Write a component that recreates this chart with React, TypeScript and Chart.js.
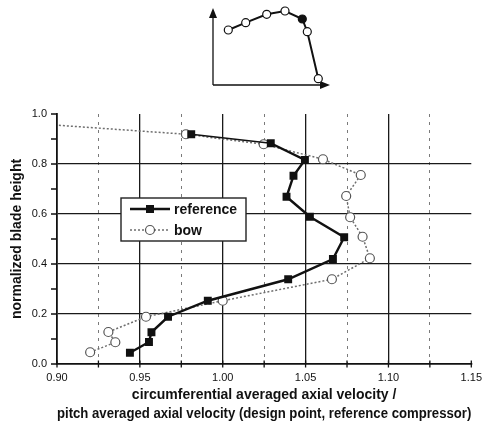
import React, { useEffect, useRef } from 'react';
import { Chart, registerables } from 'chart.js';

Chart.register(...registerables);

// ---------- data ----------
const seriesLabels = ['reference', 'bow'];

const referenceVelocity = [0.944, 0.9555, 0.957, 0.967, 0.991, 1.0395, 1.0665, 1.0733, 1.0526, 1.0385, 1.0427, 1.0496, 1.029, 0.981];
const referenceHeight = [0.045, 0.088, 0.127, 0.189, 0.253, 0.339, 0.42, 0.507, 0.589, 0.669, 0.753, 0.816, 0.883, 0.919];

const bowVelocity = [0.92, 0.9352, 0.931, 0.9537, 1.0, 1.0659, 1.0888, 1.0844, 1.0769, 1.0745, 1.0833, 1.0605, 1.0247, 0.9778, 0.804];
const bowHeight = [0.047, 0.087, 0.128, 0.189, 0.253, 0.339, 0.423, 0.509, 0.587, 0.672, 0.756, 0.819, 0.879, 0.919, 1.0];

const xTickValues = [0.9, 0.925, 0.95, 0.975, 1.0, 1.025, 1.05, 1.075, 1.1, 1.125, 1.15];
const xTickLabels = ['0.90', '0.95', '1.00', '1.05', '1.10', '1.15'];
const yTickValues = [0.0, 0.1, 0.2, 0.3, 0.4, 0.5, 0.6, 0.7, 0.8, 0.9, 1.0];
const yTickLabels = ['0.0', '0.2', '0.4', '0.6', '0.8', '1.0'];

const xTitle = ['circumferential averaged axial velocity /', 'pitch averaged axial velocity (design point, reference compressor)'];
const yTitle = 'normalized blade height';

// inset sketch (arbitrary units)
const insetX = [1.53, 3.27, 5.37, 7.2, 8.93, 9.43, 10.53];
const insetY = [5.5, 6.23, 7.07, 7.4, 6.6, 5.33, 0.63];
const insetHighlightIndex = 4;
const insetXMax = 11.7;
const insetYMax = 7.7;

// ---------- helpers ----------
const FONT = '"Liberation Sans", Arial, Helvetica, sans-serif';
const isXMajor = (v: number) => Math.abs(v / 0.05 - Math.round(v / 0.05)) < 1e-6;
const isYMajor = (v: number) => Math.abs(v / 0.2 - Math.round(v / 0.2)) < 1e-6;

const legendPlugin = {
  id: 'insideLegend',
  afterDatasetsDraw(chart: any) {
    const { ctx, chartArea } = chart;
    const x = chartArea.left + 64;
    const y = chartArea.top + 84;
    const w = 125;
    const h = 43;
    ctx.save();
    ctx.fillStyle = '#fff';
    ctx.fillRect(x, y, w, h);
    ctx.lineWidth = 1.4;
    ctx.strokeStyle = '#222';
    ctx.strokeRect(x, y, w, h);
    chart.data.datasets.forEach((ds: any, i: number) => {
      const cy = y + 11 + i * 21;
      ctx.beginPath();
      ctx.setLineDash(ds.borderDash || []);
      ctx.lineWidth = ds.borderWidth;
      ctx.strokeStyle = ds.borderColor;
      ctx.moveTo(x + 9, cy);
      ctx.lineTo(x + 49, cy);
      ctx.stroke();
      ctx.setLineDash([]);
      if (ds.pointStyle === 'rect') {
        const s = 8;
        ctx.fillStyle = ds.pointBackgroundColor;
        ctx.fillRect(x + 29 - s / 2, cy - s / 2, s, s);
      } else {
        ctx.beginPath();
        ctx.arc(x + 29, cy, ds.pointRadius, 0, Math.PI * 2);
        ctx.fillStyle = ds.pointBackgroundColor;
        ctx.fill();
        ctx.lineWidth = ds.pointBorderWidth;
        ctx.strokeStyle = ds.pointBorderColor;
        ctx.stroke();
      }
      ctx.fillStyle = '#111';
      ctx.font = `bold 14px ${FONT}`;
      ctx.textBaseline = 'middle';
      ctx.textAlign = 'left';
      ctx.fillText(ds.label, x + 53, cy + 1);
    });
    ctx.restore();
  },
};

const tickMarksPlugin = {
  id: 'crossTicks',
  afterDraw(chart: any) {
    const { ctx, scales, chartArea } = chart;
    ctx.save();
    ctx.strokeStyle = '#111';
    ctx.lineWidth = 1.3;
    ctx.beginPath();
    scales.x.ticks.forEach((t: any) => {
      const px = scales.x.getPixelForValue(t.value);
      ctx.moveTo(px, chartArea.bottom - 3.5);
      ctx.lineTo(px, chartArea.bottom + 3.5);
    });
    scales.y.ticks.forEach((t: any) => {
      const py = scales.y.getPixelForValue(t.value);
      ctx.moveTo(chartArea.left - 6, py);
      ctx.lineTo(chartArea.left, py);
    });
    ctx.stroke();
    ctx.restore();
  },
};

const insetAxesPlugin = {
  id: 'insetAxes',
  beforeDatasetsDraw(chart: any) {
    const { ctx, scales } = chart;
    const x = scales.x;
    const y = scales.y;
    const x0 = x.getPixelForValue(0);
    const y0 = y.getPixelForValue(0);
    const x1 = x.getPixelForValue(insetXMax);
    const y1 = y.getPixelForValue(insetYMax);
    ctx.save();
    ctx.strokeStyle = '#111';
    ctx.fillStyle = '#111';
    ctx.lineWidth = 1.3;
    ctx.beginPath();
    ctx.moveTo(x0, y0);
    ctx.lineTo(x0, y1 + 6);
    ctx.moveTo(x0, y0);
    ctx.lineTo(x1 - 6, y0);
    ctx.stroke();
    ctx.beginPath();
    ctx.moveTo(x0, y1);
    ctx.lineTo(x0 - 4, y1 + 10);
    ctx.lineTo(x0 + 4, y1 + 10);
    ctx.closePath();
    ctx.fill();
    ctx.beginPath();
    ctx.moveTo(x1, y0);
    ctx.lineTo(x1 - 10, y0 - 4);
    ctx.lineTo(x1 - 10, y0 + 4);
    ctx.closePath();
    ctx.fill();
    ctx.restore();
  },
};

export default function App() {
  const mainRef = useRef<HTMLCanvasElement | null>(null);
  const insetRef = useRef<HTMLCanvasElement | null>(null);

  useEffect(() => {
    if (!mainRef.current || !insetRef.current) return;

    const main = new Chart(mainRef.current, {
      type: 'scatter',
      data: {
        datasets: [
          {
            label: seriesLabels[0],
            data: referenceVelocity.map((v, i) => ({ x: v, y: referenceHeight[i] })),
            showLine: true,
            borderColor: '#111',
            borderWidth: 2.4,
            segment: {
              borderWidth: (c: any) => (c.p0DataIndex >= referenceVelocity.length - 2 ? 1.6 : 2.4),
            },
            pointStyle: 'rect',
            pointRadius: 5.6,
            pointBackgroundColor: '#111',
            pointBorderColor: '#111',
            pointBorderWidth: 0,
            tension: 0,
            clip: 0,
          } as any,
          {
            label: seriesLabels[1],
            data: bowVelocity.map((v, i) => ({ x: v, y: bowHeight[i] })),
            showLine: true,
            borderColor: '#6e6e6e',
            borderWidth: 1.5,
            borderDash: [2, 2],
            pointStyle: 'circle',
            pointRadius: 4.5,
            pointBackgroundColor: '#fff',
            pointBorderColor: '#555',
            pointBorderWidth: 1.2,
            tension: 0,
            clip: 0,
          } as any,
        ],
      },
      options: {
        animation: false,
        responsive: false,
        events: [],
        layout: { padding: { left: 0, top: 114, right: 13, bottom: 0 } },
        plugins: { legend: { display: false }, tooltip: { enabled: false }, title: { display: false } },
        scales: {
          x: {
            type: 'linear',
            min: 0.9,
            max: 1.15,
            afterBuildTicks: (scale: any) => {
              scale.ticks = xTickValues.map((v) => ({ value: v }));
            },
            afterFit: (scale: any) => {
              scale.height = 65;
            },
            ticks: {
              autoSkip: false,
              maxRotation: 0,
              padding: 7,
              color: '#111',
              font: { family: FONT, size: 11 },
              callback: (value: any) => {
                const s = Number(value).toFixed(2);
                return xTickLabels.includes(s) ? s : '';
              },
            },
            grid: {
              drawTicks: false,
              color: (c: any) => {
                const v = c.tick ? c.tick.value : null;
                if (v == null) return 'transparent';
                if (v < 0.901 || v > 1.149) return 'transparent';
                return isXMajor(v) ? '#1a1a1a' : '#7a7a7a';
              },
              lineWidth: (c: any) => (c.tick && isXMajor(c.tick.value) ? 1.3 : 1),
            },
            border: {
              display: true,
              color: '#111',
              width: 1.8,
              dash: (c: any) => (c.tick && !isXMajor(c.tick.value) ? [3, 5] : []),
            },
            title: {
              display: true,
              text: xTitle,
              color: '#111',
              font: { family: FONT, size: 14, weight: 'bold', lineHeight: 1.32 },
              padding: { top: 0, bottom: 6 },
            },
          },
          y: {
            type: 'linear',
            min: 0,
            max: 1.0,
            afterBuildTicks: (scale: any) => {
              scale.ticks = yTickValues.map((v) => ({ value: v }));
            },
            afterFit: (scale: any) => {
              scale.width = 57;
            },
            ticks: {
              autoSkip: false,
              padding: 10,
              color: '#111',
              font: { family: FONT, size: 11 },
              callback: (value: any) => {
                const s = Number(value).toFixed(1);
                return yTickLabels.includes(s) && isYMajor(Number(value)) ? s : '';
              },
            },
            grid: {
              drawTicks: false,
              color: (c: any) => {
                const v = c.tick ? c.tick.value : null;
                if (v == null) return 'transparent';
                if (v < 0.01 || v > 0.99) return 'transparent';
                return isYMajor(v) ? '#1a1a1a' : 'transparent';
              },
              lineWidth: 1.3,
            },
            border: { display: true, color: '#111', width: 1.8 },
            title: {
              display: true,
              text: yTitle,
              color: '#111',
              font: { family: FONT, size: 14, weight: 'bold', lineHeight: 1.2 },
              padding: { top: 9, bottom: 0 },
            },
          },
        },
      } as any,
      plugins: [legendPlugin, tickMarksPlugin],
    });

    const inset = new Chart(insetRef.current, {
      type: 'scatter',
      data: {
        datasets: [
          {
            data: insetX.map((v, i) => ({ x: v, y: insetY[i] })),
            showLine: true,
            borderColor: '#111',
            borderWidth: 2,
            pointRadius: 4,
            pointBorderWidth: 1.2,
            pointBorderColor: '#111',
            pointBackgroundColor: (c: any) => (c.dataIndex === insetHighlightIndex ? '#111' : '#fff'),
            tension: 0,
            clip: false,
          } as any,
        ],
      },
      options: {
        animation: false,
        responsive: false,
        events: [],
        layout: { padding: { left: 10, top: 8, right: 8, bottom: 10 } },
        plugins: { legend: { display: false }, tooltip: { enabled: false } },
        scales: {
          x: { type: 'linear', min: 0, max: insetXMax, display: false },
          y: { type: 'linear', min: 0, max: insetYMax, display: false },
        },
      } as any,
      plugins: [insetAxesPlugin],
    });

    return () => {
      main.destroy();
      inset.destroy();
    };
  }, []);

  return (
    <div style={{ position: 'absolute', left: 0, top: 0, width: 489, height: 429, background: '#fff', overflow: 'hidden' }}>
      <canvas ref={mainRef} width={489} height={429} style={{ position: 'absolute', left: 0, top: 0, width: 489, height: 429 }} />
      <canvas ref={insetRef} width={135} height={95} style={{ position: 'absolute', left: 203, top: 0, width: 135, height: 95 }} />
    </div>
  );
}
